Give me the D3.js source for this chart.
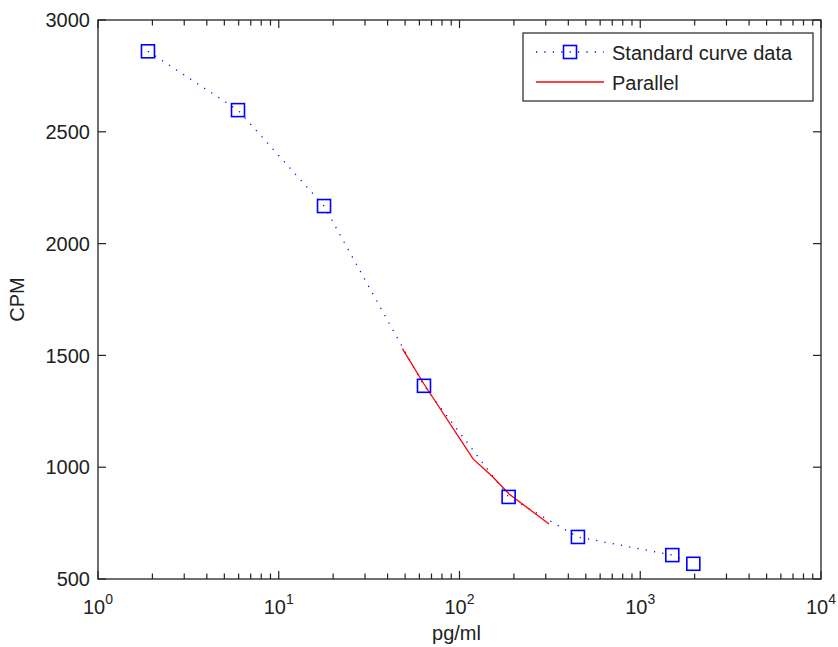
<!DOCTYPE html>
<html>
<head>
<meta charset="utf-8">
<script src="https://cdn.jsdelivr.net/npm/d3@7"></script>
<style>
  body { margin: 0; background: #fff; }
  text { font-family: "Liberation Sans", Arial, sans-serif; fill: #222; }
</style>
</head>
<body>
<div id="chart"></div>
<script>
// Standard curve data (pg/ml vs CPM)
const conc = [1.89, 5.95, 17.8, 63.6, 187, 452, 1504, 1966];
const cpm = [2860, 2597, 2168, 1364, 867, 688, 607, 568];

// Parallel fit line
const parConc = [48.3, 63.6, 118.8, 153, 188, 313];
const parCpm = [1530, 1372, 1037, 956, 880, 746];

const yTicks = [500, 1000, 1500, 2000, 2500, 3000];
const xMajor = [1, 10, 100, 1000, 10000];

const W = 838, H = 647;
const pLeft = 98, pRight = 821, pTop = 20, pBottom = 579;

const svg = d3.select("#chart").append("svg")
    .attr("width", W)
    .attr("height", H);

const x = d3.scaleLog().domain([1, 10000]).range([pLeft, pRight]);
const y = d3.scaleLinear().domain([500, 3000]).range([pBottom, pTop]);

// minor log ticks 2..9 per decade
const xMinor = [];
for (let d = 1; d < 10000; d *= 10) {
  for (let k = 2; k <= 9; k++) xMinor.push(d * k);
}

// box
svg.append("rect")
    .attr("x", pLeft).attr("y", pTop)
    .attr("width", pRight - pLeft).attr("height", pBottom - pTop)
    .attr("fill", "none").attr("stroke", "#222").attr("stroke-width", 1.3);

const tickLine = (sel) => sel.attr("stroke", "#222").attr("stroke-width", 1.2);

// x ticks, bottom and top, pointing inward
[[xMajor, 8], [xMinor, 5.5]].forEach(([vals, len]) => {
  svg.append("g").selectAll("line").data(vals).enter().append("line")
      .attr("x1", d => x(d)).attr("x2", d => x(d))
      .attr("y1", pBottom).attr("y2", pBottom - len)
      .call(tickLine);
  svg.append("g").selectAll("line").data(vals).enter().append("line")
      .attr("x1", d => x(d)).attr("x2", d => x(d))
      .attr("y1", pTop).attr("y2", pTop + len)
      .call(tickLine);
});

// y ticks, left and right
svg.append("g").selectAll("line").data(yTicks).enter().append("line")
    .attr("x1", pLeft).attr("x2", pLeft + 8)
    .attr("y1", d => y(d)).attr("y2", d => y(d))
    .call(tickLine);
svg.append("g").selectAll("line").data(yTicks).enter().append("line")
    .attr("x1", pRight).attr("x2", pRight - 8)
    .attr("y1", d => y(d)).attr("y2", d => y(d))
    .call(tickLine);

// y tick labels
svg.append("g").selectAll("text").data(yTicks).enter().append("text")
    .attr("x", pLeft - 8)
    .attr("y", d => y(d))
    .attr("dy", "0.36em")
    .attr("text-anchor", "end")
    .style("font-size", "20px")
    .text(d => d);

// x tick labels 10^n
const xl = svg.append("g").selectAll("text").data(xMajor).enter().append("text")
    .attr("x", d => x(d))
    .attr("y", 614)
    .attr("text-anchor", "middle")
    .style("font-size", "20px");
xl.append("tspan").text("10");
xl.append("tspan")
    .attr("dy", -10)
    .style("font-size", "14px")
    .text(d => Math.round(Math.log10(d)));

// axis labels
svg.append("text")
    .attr("x", (pLeft + pRight) / 2 - 3)
    .attr("y", 640)
    .attr("text-anchor", "middle")
    .style("font-size", "20px")
    .text("pg/ml");

svg.append("text")
    .attr("transform", `translate(24,${(pTop + pBottom) / 2}) rotate(-90)`)
    .attr("text-anchor", "middle")
    .style("font-size", "20px")
    .text("CPM");

const pts = conc.map((c, i) => ({ c: c, v: cpm[i] }));
const par = parConc.map((c, i) => ({ c: c, v: parCpm[i] }));

const line = d3.line()
    .x(d => x(d.c))
    .y(d => y(d.v));

// dotted standard curve
svg.append("path")
    .datum(pts)
    .attr("d", line)
    .attr("fill", "none")
    .attr("stroke", "#0000ff")
    .attr("stroke-width", 1.3)
    .attr("stroke-dasharray", "1.2,7.2");

// parallel line
svg.append("path")
    .datum(par)
    .attr("d", line)
    .attr("fill", "none")
    .attr("stroke", "#ff0000")
    .attr("stroke-width", 1.3);

// square markers
const ms = 13;
svg.append("g").selectAll("rect").data(pts).enter().append("rect")
    .attr("x", d => x(d.c) - ms / 2)
    .attr("y", d => y(d.v) - ms / 2)
    .attr("width", ms).attr("height", ms)
    .attr("fill", "none")
    .attr("stroke", "#0000ff")
    .attr("stroke-width", 1.6);

// legend
const lg = svg.append("g");
lg.append("rect")
    .attr("x", 523).attr("y", 33)
    .attr("width", 290).attr("height", 68)
    .attr("fill", "#fff").attr("stroke", "#222").attr("stroke-width", 1.2);
lg.append("line")
    .attr("x1", 536).attr("x2", 604).attr("y1", 52).attr("y2", 52)
    .attr("stroke", "#0000ff").attr("stroke-width", 1.3)
    .attr("stroke-dasharray", "1.2,7.2");
lg.append("rect")
    .attr("x", 570 - ms / 2).attr("y", 52 - ms / 2)
    .attr("width", ms).attr("height", ms)
    .attr("fill", "none").attr("stroke", "#0000ff").attr("stroke-width", 1.6);
lg.append("line")
    .attr("x1", 536).attr("x2", 604).attr("y1", 82).attr("y2", 82)
    .attr("stroke", "#ff0000").attr("stroke-width", 1.3);
lg.append("text")
    .attr("x", 612).attr("y", 60)
    .style("font-size", "20px")
    .text("Standard curve data");
lg.append("text")
    .attr("x", 612).attr("y", 90)
    .style("font-size", "20px")
    .text("Parallel");
</script>
</body>
</html>
